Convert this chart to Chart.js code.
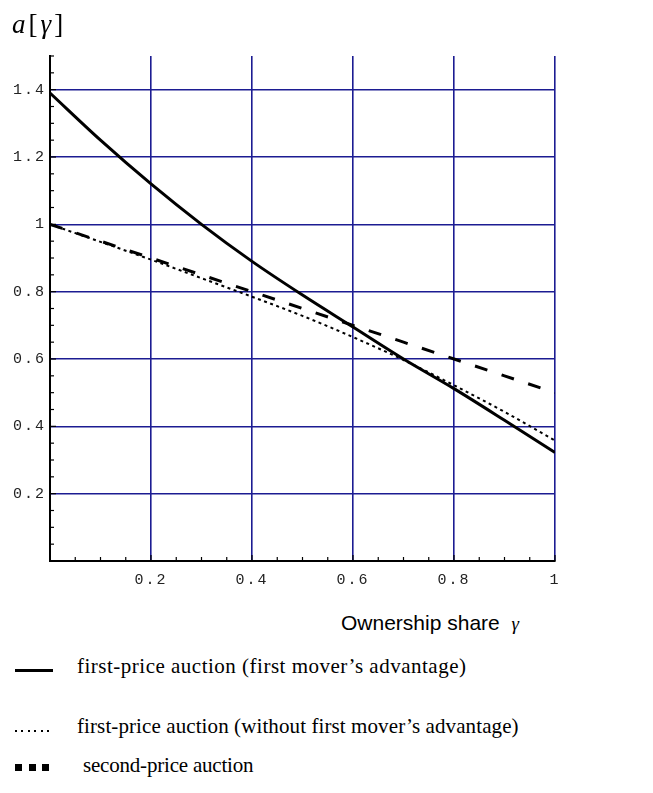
<!DOCTYPE html>
<html>
<head>
<meta charset="utf-8">
<script src="https://cdn.jsdelivr.net/npm/chart.js@4.4.1/dist/chart.umd.min.js"></script>
<style>
  html, body { margin: 0; padding: 0; background: #fff; }
  body { width: 653px; height: 793px; position: relative; overflow: hidden; }
  #plot { position: absolute; left: 0; top: 0; }
  .txt { position: absolute; white-space: nowrap; color: #000; line-height: normal; }
  .serif { font-family: "Liberation Serif", "Times New Roman", serif; }
  .sans { font-family: "Liberation Sans", Arial, sans-serif; }
  .sym { position: absolute; }
</style>
</head>
<body>
<canvas id="plot" width="653" height="600"></canvas>

<div class="txt serif" style="left:12px; top:9px; font-size:27px; letter-spacing:3px;"><i>a</i>[<i>γ</i>]</div>
<div class="txt sans" style="left:341px; top:611px; font-size:21px;">Ownership share&nbsp; <span class="serif" style="font-style:italic; font-size:19px;">γ</span></div>

<div class="sym" style="left:15px; top:669px; width:38px; height:3px; background:#000;"></div>
<div class="txt serif" style="left:77px; top:654px; font-size:21px; letter-spacing:0.5px;">first-price auction (first mover’s advantage)</div>

<div class="sym" style="left:15px; top:730px; width:36px; height:2px; background:repeating-linear-gradient(to right, #000 0, #000 2px, transparent 2px, transparent 6.5px);"></div>
<div class="txt serif" style="left:77px; top:714px; font-size:21px; letter-spacing:0.1px;">first-price auction (without first mover’s advantage)</div>

<div class="sym" style="left:15px; top:764px; width:35px; height:7px; background:repeating-linear-gradient(to right, #000 0, #000 7px, transparent 7px, transparent 13.5px);"></div>
<div class="txt serif" style="left:83px; top:753px; font-size:21px; letter-spacing:-0.2px;">second-price auction</div>

<script>
const gammaValues = [0, 0.1, 0.2, 0.3, 0.4, 0.5, 0.6, 0.7, 0.8, 0.9, 1];
const firstMoverValues = [1.39, 1.25, 1.12, 1.0, 0.89, 0.79, 0.695, 0.6, 0.512, 0.418, 0.322];
const noFirstMoverValues = [1.0, 0.948, 0.895, 0.84, 0.785, 0.728, 0.665, 0.597, 0.522, 0.443, 0.358];
const secondPriceValues = [1.0, 0.95, 0.9, 0.85, 0.8, 0.75, 0.7, 0.65, 0.6, 0.55, 0.5];
const xTickLabels = [0.2, 0.4, 0.6, 0.8, 1];
const yTickLabels = [0.2, 0.4, 0.6, 0.8, 1, 1.2, 1.4];

(function () {
  const gridBlue = "#1c1c92";
  const tickFont = { family: "'Liberation Mono', 'DejaVu Sans Mono', monospace", size: 15 };

  function isMajor(value, list) {
    return list.some((v) => Math.abs(v - value) < 1e-6);
  }

  function points(values) {
    return gammaValues.map((g, i) => ({ x: g, y: values[i] }));
  }

  function formatTick(value, list) {
    if (!isMajor(value, list)) return "";
    return String(Math.round(value * 10) / 10);
  }

  // wide, typewriter-ish tick labels
  const spacedLabels = {
    id: "spacedLabels",
    beforeDraw(chart) { chart.ctx.letterSpacing = "2px"; },
    afterDraw(chart) { chart.ctx.letterSpacing = "0px"; },
  };

  // little inward tick marks along both axes, like the Mathematica frame
  const axisTicks = {
    id: "axisTicks",
    beforeDatasetsDraw(chart) {
      const { ctx, chartArea, scales } = chart;
      ctx.save();
      ctx.strokeStyle = "#000";
      ctx.lineWidth = 1.2;
      scales.x.ticks.forEach((t) => {
        if (t.value <= 0) return;
        const px = scales.x.getPixelForValue(t.value);
        const len = isMajor(t.value, xTickLabels) ? 6 : 4;
        ctx.beginPath();
        ctx.moveTo(px, chartArea.bottom);
        ctx.lineTo(px, chartArea.bottom - len);
        ctx.stroke();
      });
      scales.y.ticks.forEach((t) => {
        if (t.value <= 0) return;
        const py = scales.y.getPixelForValue(t.value);
        const len = isMajor(t.value, yTickLabels) ? 6 : 4;
        ctx.beginPath();
        ctx.moveTo(chartArea.left, py);
        ctx.lineTo(chartArea.left + len, py);
        ctx.stroke();
      });
      ctx.restore();
    },
  };

  new Chart(document.getElementById("plot"), {
    type: "line",
    data: {
      datasets: [
        {
          label: "first-price auction (first mover’s advantage)",
          data: points(firstMoverValues),
          borderColor: "#000",
          borderWidth: 3,
          pointRadius: 0,
          cubicInterpolationMode: "monotone",
        },
        {
          label: "first-price auction (without first mover’s advantage)",
          data: points(noFirstMoverValues),
          borderColor: "#000",
          borderWidth: 2,
          borderDash: [3, 3.5],
          pointRadius: 0,
          cubicInterpolationMode: "monotone",
        },
        {
          label: "second-price auction",
          data: points(secondPriceValues),
          borderColor: "#000",
          borderWidth: 3,
          borderDash: [13, 15],
          pointRadius: 0,
        },
      ],
    },
    options: {
      responsive: false,
      animation: false,
      devicePixelRatio: 1,
      layout: { padding: { top: 56, right: 98, left: 0, bottom: 0 } },
      plugins: { legend: { display: false }, tooltip: { enabled: false } },
      scales: {
        x: {
          type: "linear",
          min: 0,
          max: 1,
          afterFit(scale) { scale.height = 39; },
          border: { color: "#000", width: 2 },
          grid: {
            drawTicks: false,
            color: (c) => (c.tick && c.tick.value > 0 && isMajor(c.tick.value, xTickLabels) ? gridBlue : "rgba(0,0,0,0)"),
            lineWidth: 1.6,
          },
          ticks: {
            stepSize: 0.05,
            autoSkip: false,
            maxRotation: 0,
            padding: 10,
            color: "#222",
            font: tickFont,
            callback: (v) => formatTick(v, xTickLabels),
          },
        },
        y: {
          type: "linear",
          min: 0,
          max: 1.5,
          afterFit(scale) { scale.width = 50; },
          border: { color: "#000", width: 2 },
          grid: {
            drawTicks: false,
            color: (c) => (c.tick && c.tick.value > 0 && isMajor(c.tick.value, yTickLabels) ? gridBlue : "rgba(0,0,0,0)"),
            lineWidth: 1.6,
          },
          ticks: {
            stepSize: 0.05,
            autoSkip: false,
            padding: 4,
            color: "#222",
            font: tickFont,
            callback: (v) => formatTick(v, yTickLabels),
          },
        },
      },
    },
    plugins: [spacedLabels, axisTicks],
  });
})();
</script>
</body>
</html>
